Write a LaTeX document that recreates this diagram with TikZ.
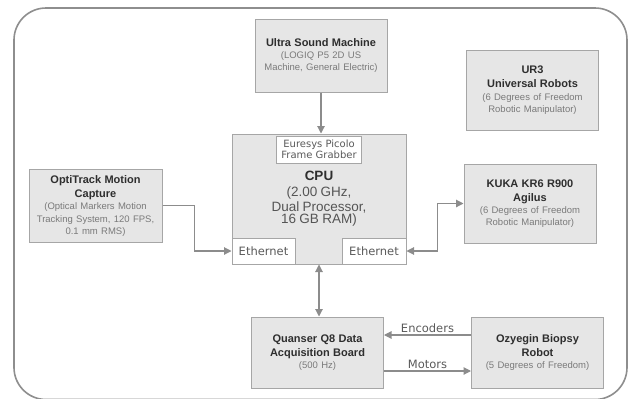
\documentclass[tikz,border=0pt]{standalone}
\usepackage{fontspec}
\setmainfont{Liberation Sans}
\newfontfamily\portfamily{DejaVu Sans}
\usetikzlibrary{arrows.meta,positioning}
\definecolor{boxFill}{HTML}{E6E6E6}
\definecolor{boxLine}{HTML}{A6A6A6}
\definecolor{titleText}{HTML}{2E2E2E}
\definecolor{subText}{HTML}{7A7A7A}
\definecolor{cpuText}{HTML}{555555}
\definecolor{portText}{HTML}{5A5A5A}
\definecolor{arrowGray}{HTML}{8C8C8C}
\definecolor{frameLine}{HTML}{8E8E8E}
\newcommand{\titlefont}{\fontsize{11}{14}\selectfont\bfseries}
\newcommand{\subfont}{\fontsize{9.5}{12.5}\selectfont\mdseries\color{subText}}

\begin{document}
\begin{tikzpicture}[
  x=1pt, y=-1pt,
  box/.style={
    rectangle, draw=boxLine, fill=boxFill, line width=1pt,
    minimum width=132pt, text width=128pt, align=center,
    inner sep=2pt, text=titleText
  },
  port/.style={
    rectangle, draw=boxLine, fill=white, line width=1pt,
    align=center, inner sep=2pt, text=portText, font=\portfamily
  },
  flow/.style={-{Triangle[length=7.5pt,width=7.5pt]}, line width=1.1pt, draw=arrowGray},
  biflow/.style={{Triangle[length=7.5pt,width=7.5pt]}-{Triangle[length=7.5pt,width=7.5pt]}, line width=1.1pt, draw=arrowGray},
  wire/.style={font=\portfamily\fontsize{11.5}{13}\selectfont, text=portText, inner sep=2pt}
]
\useasboundingbox (0,0) rectangle (635,399);

%  Outer frame 
\draw[frameLine, line width=1.6pt, rounded corners=32pt] (14,8) rectangle (627,399.5);

%  Devices 
\node[box, minimum height=73pt] (us) at (321,55.5) {%
  \titlefont Ultra Sound Machine\par
  \subfont (LOGIQ P5 2D US\\Machine, General Electric)
};

\node[box, minimum width=131pt, minimum height=80pt] (ur3) at (532.5,90) {%
  \titlefont UR3\\Universal Robots\par
  \subfont (6 Degrees of Freedom\\Robotic Manipulator)
};

\node[box, minimum width=174pt, minimum height=130pt, text width=168pt] (cpu) at (319,199) {%
  \fontsize{13.5}{15.5}\selectfont\textbf{CPU}\\
  \color{cpuText}(2.00 GHz,\\Dual Processor,\\16 GB RAM)
};

\node[box, minimum width=133pt, minimum height=73pt] (opti) at (95.5,205.5) {%
  \titlefont OptiTrack Motion\\Capture\par
  \subfont (Optical Markers Motion\\Tracking System, 120 FPS,\\0.1 mm RMS)
};

\node[box, minimum height=79pt, below=33pt of ur3.south, xshift=-2.5pt] (kuka) {%
  \titlefont KUKA KR6 R900\\Agilus\par
  \subfont (6 Degrees of Freedom\\Robotic Manipulator)
};

\node[box, minimum width=131pt, minimum height=71pt] (quanser) at (317.5,352.5) {%
  \titlefont Quanser Q8 Data\\Acquisition Board\par
  \subfont (500 Hz)
};

\node[box, minimum height=71pt, right=87pt of quanser] (ozy) {%
  \titlefont Ozyegin Biopsy\\Robot\par
  \subfont (5 Degrees of Freedom)
};

%  CPU ports 
\node[port, minimum width=85pt, minimum height=27pt, font=\portfamily\fontsize{10}{11.5}\selectfont,
  below=2pt of cpu.north] (grab) {Euresys Picolo\\Frame Grabber};
\node[port, minimum width=63pt, minimum height=26pt, font=\portfamily\fontsize{11.5}{13}\selectfont,
  anchor=south west] (ethL) at (cpu.south west) {Ethernet};
\node[port, minimum width=64pt, minimum height=26pt, font=\portfamily\fontsize{11.5}{13}\selectfont,
  anchor=south east] (ethR) at (cpu.south east) {Ethernet};

%  Connections 
\draw[flow] (us.south) -- (us.south |- cpu.north);
\draw[flow] (opti.east) -- ++(32,0) |- (ethL.west);
\draw[biflow] (ethR.east) -- ++(31,0) |- (kuka.west);
\draw[biflow] (cpu.south) -- (cpu.south |- quanser.north);
\draw[flow] ([yshift=17.5pt]ozy.west) -- ([yshift=17.5pt]ozy.west -| quanser.east)
  node[wire, midway, above] {Encoders};
\draw[flow] ([yshift=-18.5pt]quanser.east) -- ([yshift=-18.5pt]quanser.east -| ozy.west)
  node[wire, midway, above] {Motors};

\end{tikzpicture}
\end{document}
